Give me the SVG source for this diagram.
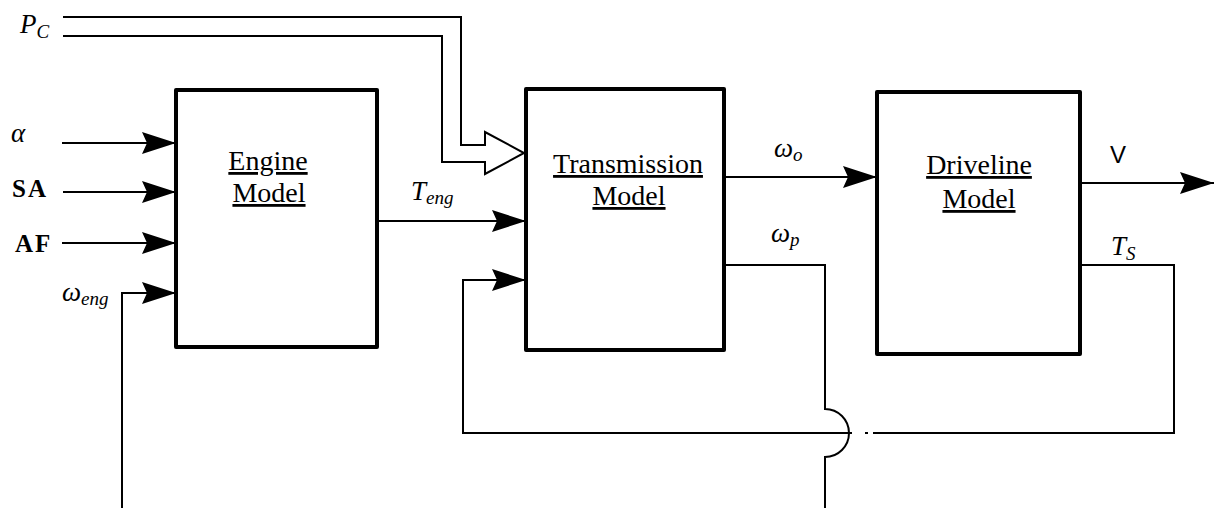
<svg xmlns="http://www.w3.org/2000/svg" width="1214" height="508" viewBox="0 0 1214 508">
<style>
.box{fill:#fff;stroke:#000;stroke-width:4;stroke-linejoin:round}
.ln{fill:none;stroke:#000;stroke-width:2}
.title{font-family:"Liberation Serif",serif;font-size:28px;text-anchor:middle;text-decoration:underline;fill:#000}
.it{font-family:"Liberation Serif",serif;font-style:italic;font-size:27px;fill:#000}
.sub{font-size:19px}
.rm{font-family:"Liberation Serif",serif;font-weight:bold;font-size:25px;letter-spacing:2px;fill:#000}
.sans{font-family:"Liberation Sans",sans-serif;font-size:24px;fill:#000}
</style>
<defs>
<marker id="ah" markerUnits="userSpaceOnUse" markerWidth="36" markerHeight="24" refX="34" refY="11" orient="auto">
<path d="M0,0 L34,11 L0,22 L5,11 Z" fill="#000"/>
</marker>
</defs>
<rect width="1214" height="508" fill="#fff"/>
<g id="connectors">
<path class="ln" d="M63,17 H461 V145 H485 V132 L524,153 L485,174 V162 H442 V36 H63"/>
<path class="ln" d="M62,143 H176" marker-end="url(#ah)"/>
<path class="ln" d="M63,192 H176" marker-end="url(#ah)"/>
<path class="ln" d="M62,243 H176" marker-end="url(#ah)"/>
<path class="ln" d="M122,508 V293 H176" marker-end="url(#ah)"/>
<path class="ln" d="M377,221 H526" marker-end="url(#ah)"/>
<path class="ln" d="M724,177 H877" marker-end="url(#ah)"/>
<path class="ln" d="M1080,183 H1214" marker-end="url(#ah)"/>
<path class="ln" d="M724,265 H825 V409 A24,24 0 0 1 825,457 V508"/>
<path class="ln" d="M1080,265 H1174 V433 H873 M868,433 H865 M852,433 H463 V280 H526" marker-end="url(#ah)"/>
</g>
<g id="engine">
<rect class="box" x="176" y="90" width="201" height="257"/>
<text class="title" x="268" y="170">Engine</text>
<text class="title" x="269" y="202">Model</text>
</g>
<g id="transmission">
<rect class="box" x="526" y="89" width="198" height="261"/>
<text class="title" x="628" y="173">Transmission</text>
<text class="title" x="629" y="205">Model</text>
</g>
<g id="driveline">
<rect class="box" x="877" y="92" width="203" height="262"/>
<text class="title" x="979" y="174">Driveline</text>
<text class="title" x="979" y="208">Model</text>
</g>
<g id="labels">
<text class="it" x="20" y="33">P<tspan class="sub" dy="5">C</tspan></text>
<text class="it" x="11" y="142">α</text>
<text class="rm" x="12" y="197">SA</text>
<text class="rm" x="15" y="252">AF</text>
<text class="it" x="62" y="301">ω<tspan class="sub" dy="4">eng</tspan></text>
<text class="it" x="411" y="200">T<tspan class="sub" dy="4">eng</tspan></text>
<text class="it" x="774" y="157">ω<tspan class="sub" dy="4">o</tspan></text>
<text class="it" x="771" y="242">ω<tspan class="sub" dy="4">p</tspan></text>
<text class="sans" x="1110" y="163">V</text>
<text class="it" x="1111" y="255">T<tspan class="sub" dy="5">S</tspan></text>
</g>
</svg>
